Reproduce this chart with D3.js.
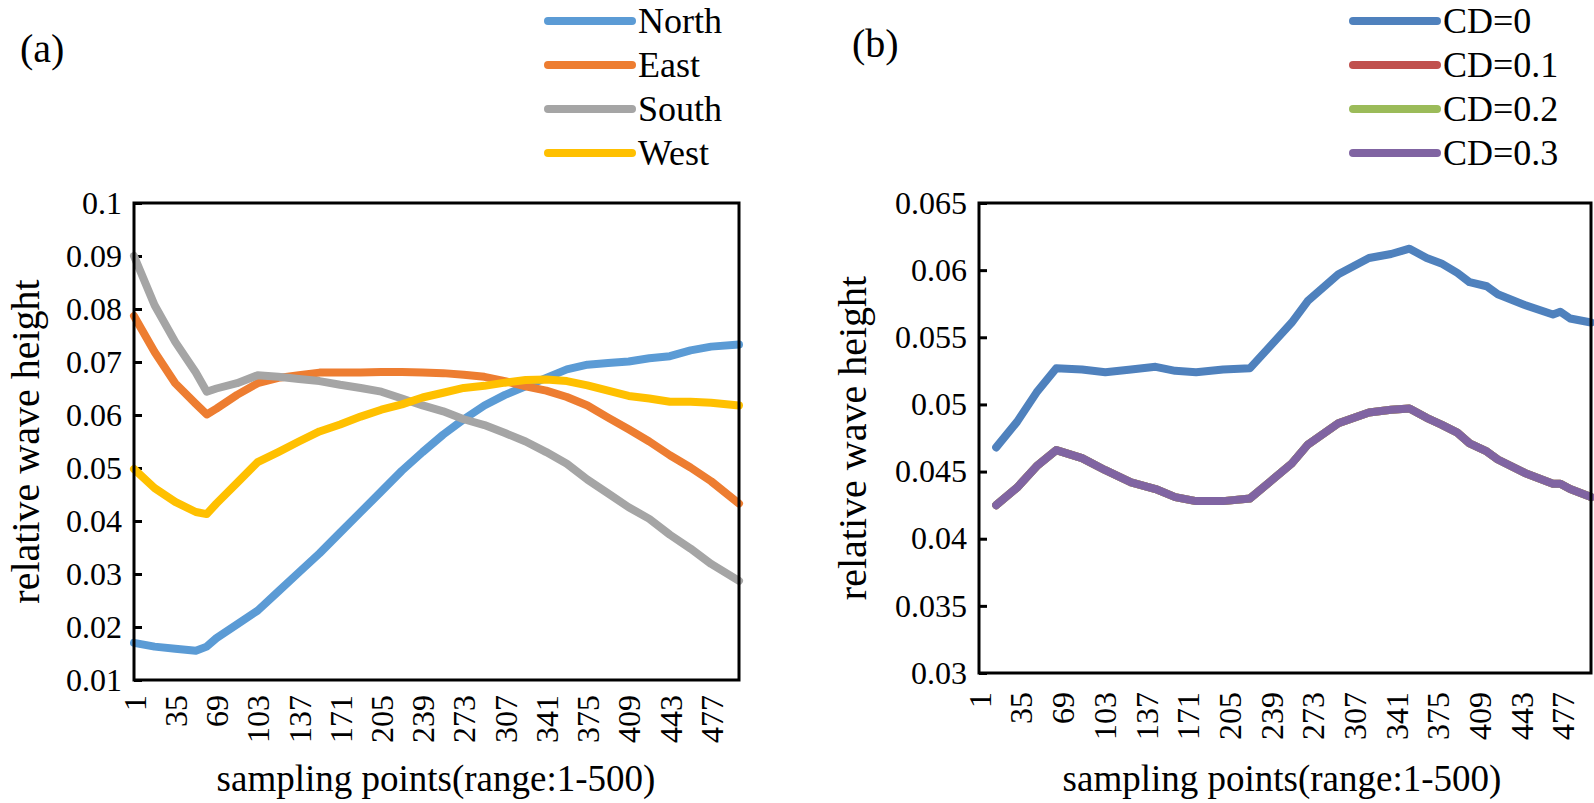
<html>
<head>
<script src="https://d3js.org/d3.v7.min.js"></script>
<style>
  body { margin: 0; background: #fff; }
  svg text { font-family: "Liberation Serif", "Times New Roman", "DejaVu Serif Condensed", "DejaVu Serif", serif; fill: #000; }
</style>
</head>
<body>
<script>

// panel (a): sampling points and series values
var samplesA = [1, 18, 35, 52, 61, 69, 86, 103, 120, 137, 154, 171, 188, 205, 222, 239,
                256, 273, 290, 307, 324, 341, 358, 375, 392, 409, 426, 443, 460, 477, 500];
var north = [0.017, 0.0163, 0.0159, 0.0155, 0.0163, 0.0179, 0.0205, 0.0231, 0.0267, 0.0303, 0.0339,
             0.0378, 0.0417, 0.0456, 0.0495, 0.053, 0.0563, 0.0592, 0.0618, 0.0638, 0.0654, 0.067,
             0.0686, 0.0695, 0.0698, 0.0701, 0.0707, 0.0711, 0.0722, 0.0729, 0.0733];
var east = [0.0787, 0.0719, 0.066, 0.0621, 0.0601, 0.0612, 0.0638, 0.066, 0.067, 0.0675, 0.068,
            0.068, 0.068, 0.0681, 0.0681, 0.068, 0.0679, 0.0676, 0.0672, 0.0664, 0.0654, 0.0646,
            0.0634, 0.0618, 0.0595, 0.0573, 0.055, 0.0524, 0.0501, 0.0475, 0.0433];
var south = [0.090, 0.0807, 0.0738, 0.068, 0.0644, 0.065, 0.066, 0.0675, 0.0672, 0.0668, 0.0664,
             0.0657, 0.0651, 0.0644, 0.0631, 0.0618, 0.0607, 0.0592, 0.0581, 0.0566, 0.055, 0.053,
             0.0508, 0.0478, 0.0452, 0.0426, 0.0404, 0.0374, 0.0348, 0.0319, 0.0287];
var west = [0.0498, 0.0462, 0.0436, 0.0417, 0.0413, 0.0433, 0.0472, 0.0511, 0.053, 0.055, 0.0569,
            0.0582, 0.0597, 0.061, 0.062, 0.0633, 0.0642, 0.0651, 0.0655, 0.0661, 0.0666, 0.0667,
            0.0664, 0.0656, 0.0646, 0.0636, 0.0631, 0.0625, 0.0625, 0.0623, 0.0618];
var namesA = ["North", "East", "South", "West"];
var colorsA = ["#5B9BD5", "#ED7D31", "#A5A5A5", "#FFC000"];
var yTicksA = [0.01, 0.02, 0.03, 0.04, 0.05, 0.06, 0.07, 0.08, 0.09, 0.1];

// panel (b)
var samplesB = [15, 32, 48, 64, 85, 104, 125, 145, 161, 178, 200, 222, 239, 256, 269, 294,
                319, 337, 352, 366, 378, 391, 401, 415, 424, 446, 469, 475, 483, 500];
var cd0 = [0.0468, 0.0487, 0.0509, 0.0527, 0.0526, 0.0524, 0.0526, 0.0528, 0.0525, 0.0524, 0.0526,
           0.0527, 0.0544, 0.0561, 0.0577, 0.0597, 0.0609, 0.0612, 0.0616, 0.0609, 0.0605, 0.0598,
           0.0591, 0.0588, 0.0582, 0.0574, 0.0567, 0.0569, 0.0564, 0.0561];
var cd3 = [0.0425, 0.0438, 0.0454, 0.0466, 0.0460, 0.0451, 0.0442, 0.0437, 0.0431, 0.0428, 0.0428,
           0.0430, 0.0443, 0.0456, 0.0470, 0.0486, 0.0494, 0.0496, 0.0497, 0.0490, 0.0485, 0.0479,
           0.0471, 0.0465, 0.0459, 0.0449, 0.0441, 0.0441, 0.0437, 0.0431];
// CD=0.1 and CD=0.2 lie under the CD=0.3 curve
var cd1 = cd3.slice();
var cd2 = cd3.slice();
var namesB = ["CD=0", "CD=0.1", "CD=0.2", "CD=0.3"];
var colorsB = ["#4F81BD", "#C0504D", "#9BBB59", "#8064A2"];
var yTicksB = [0.03, 0.035, 0.04, 0.045, 0.05, 0.055, 0.06, 0.065];

var xTicks = d3.range(1, 500, 34);   // 1, 35, ... 477

var svg = d3.select("body").append("svg")
            .attr("width", 1594)
            .attr("height", 803);

function panel(opt) {
  var x = d3.scaleLinear().domain([1, 500]).range([opt.left, opt.right]);
  var y = d3.scaleLinear().domain(opt.yDomain).range([opt.bottom, opt.top]);

  // y axis, ticks pointing inward
  var ya = svg.append("g")
      .attr("transform", "translate(" + opt.left + ",0)")
      .call(d3.axisLeft(y).tickValues(opt.yTicks).tickSizeInner(-8).tickSizeOuter(0)
              .tickPadding(12).tickFormat(function(d){ return String(d); }));
  ya.attr("font-family", null);
  ya.select(".domain").remove();
  ya.selectAll("line").attr("stroke", "#000").attr("stroke-width", 3);
  ya.selectAll("text").style("font-size", "32px");

  // x axis labels, rotated
  var xa = svg.append("g")
      .attr("transform", "translate(0," + opt.bottom + ")")
      .call(d3.axisBottom(x).tickValues(xTicks).tickSize(0));
  xa.attr("font-family", null);
  xa.select(".domain").remove();
  xa.selectAll("text")
    .attr("transform", "rotate(-90)")
    .attr("x", -opt.xLabOff)
    .attr("y", 0)
    .attr("dy", "0.35em")
    .style("text-anchor", "end")
    .style("font-size", "32px");

  var line = d3.line()
      .x(function(d){ return x(d[0]); })
      .y(function(d){ return y(d[1]); });

  opt.series.forEach(function(s, i) {
    svg.append("path")
       .datum(opt.samples.map(function(v, j){ return [v, s[j]]; }))
       .attr("d", line)
       .attr("fill", "none")
       .attr("stroke", opt.colors[i])
       .attr("stroke-width", 8)
       .attr("stroke-linejoin", "round")
       .attr("stroke-linecap", "round");
  });

  // plot frame
  svg.append("rect")
     .attr("x", opt.left).attr("y", opt.top)
     .attr("width", opt.right - opt.left).attr("height", opt.bottom - opt.top)
     .attr("fill", "none").attr("stroke", "#000").attr("stroke-width", 3);

  // legend
  opt.names.forEach(function(n, i) {
    var ly = 21 + i * 44;
    svg.append("line")
       .attr("x1", opt.legX).attr("x2", opt.legX + 84)
       .attr("y1", ly).attr("y2", ly)
       .attr("stroke", opt.colors[i]).attr("stroke-width", 8)
       .attr("stroke-linecap", "round");
    svg.append("text")
       .attr("x", opt.legX + 90).attr("y", ly + 12)
       .style("font-size", "36px")
       .text(n);
  });

  svg.append("text")
     .attr("x", opt.tagX).attr("y", opt.tagY)
     .style("font-size", "40px")
     .text(opt.tag);

  svg.append("text")
     .attr("transform", "translate(" + opt.yTitleX + "," + (opt.top + opt.bottom) / 2 + ") rotate(-90)")
     .style("text-anchor", "middle")
     .style("font-size", "40px")
     .text("relative wave height");

  svg.append("text")
     .attr("x", opt.xTitleX).attr("y", 791)
     .style("text-anchor", "middle")
     .style("font-size", "37px")
     .text("sampling points(range:1-500)");
}

panel({
  left: 134, right: 739, top: 203, bottom: 680,
  yDomain: [0.01, 0.1], yTicks: yTicksA, xLabOff: 15,
  samples: samplesA, series: [north, east, south, west],
  names: namesA, colors: colorsA, legX: 548,
  tag: "(a)", tagX: 20, tagY: 62, yTitleX: 39, xTitleX: 436
});

panel({
  left: 979, right: 1591, top: 203, bottom: 673,
  yDomain: [0.03, 0.065], yTicks: yTicksB, xLabOff: 19,
  samples: samplesB, series: [cd0, cd1, cd2, cd3],
  names: namesB, colors: colorsB, legX: 1353,
  tag: "(b)", tagX: 852, tagY: 57, yTitleX: 866, xTitleX: 1282
});

</script>
</body>
</html>
